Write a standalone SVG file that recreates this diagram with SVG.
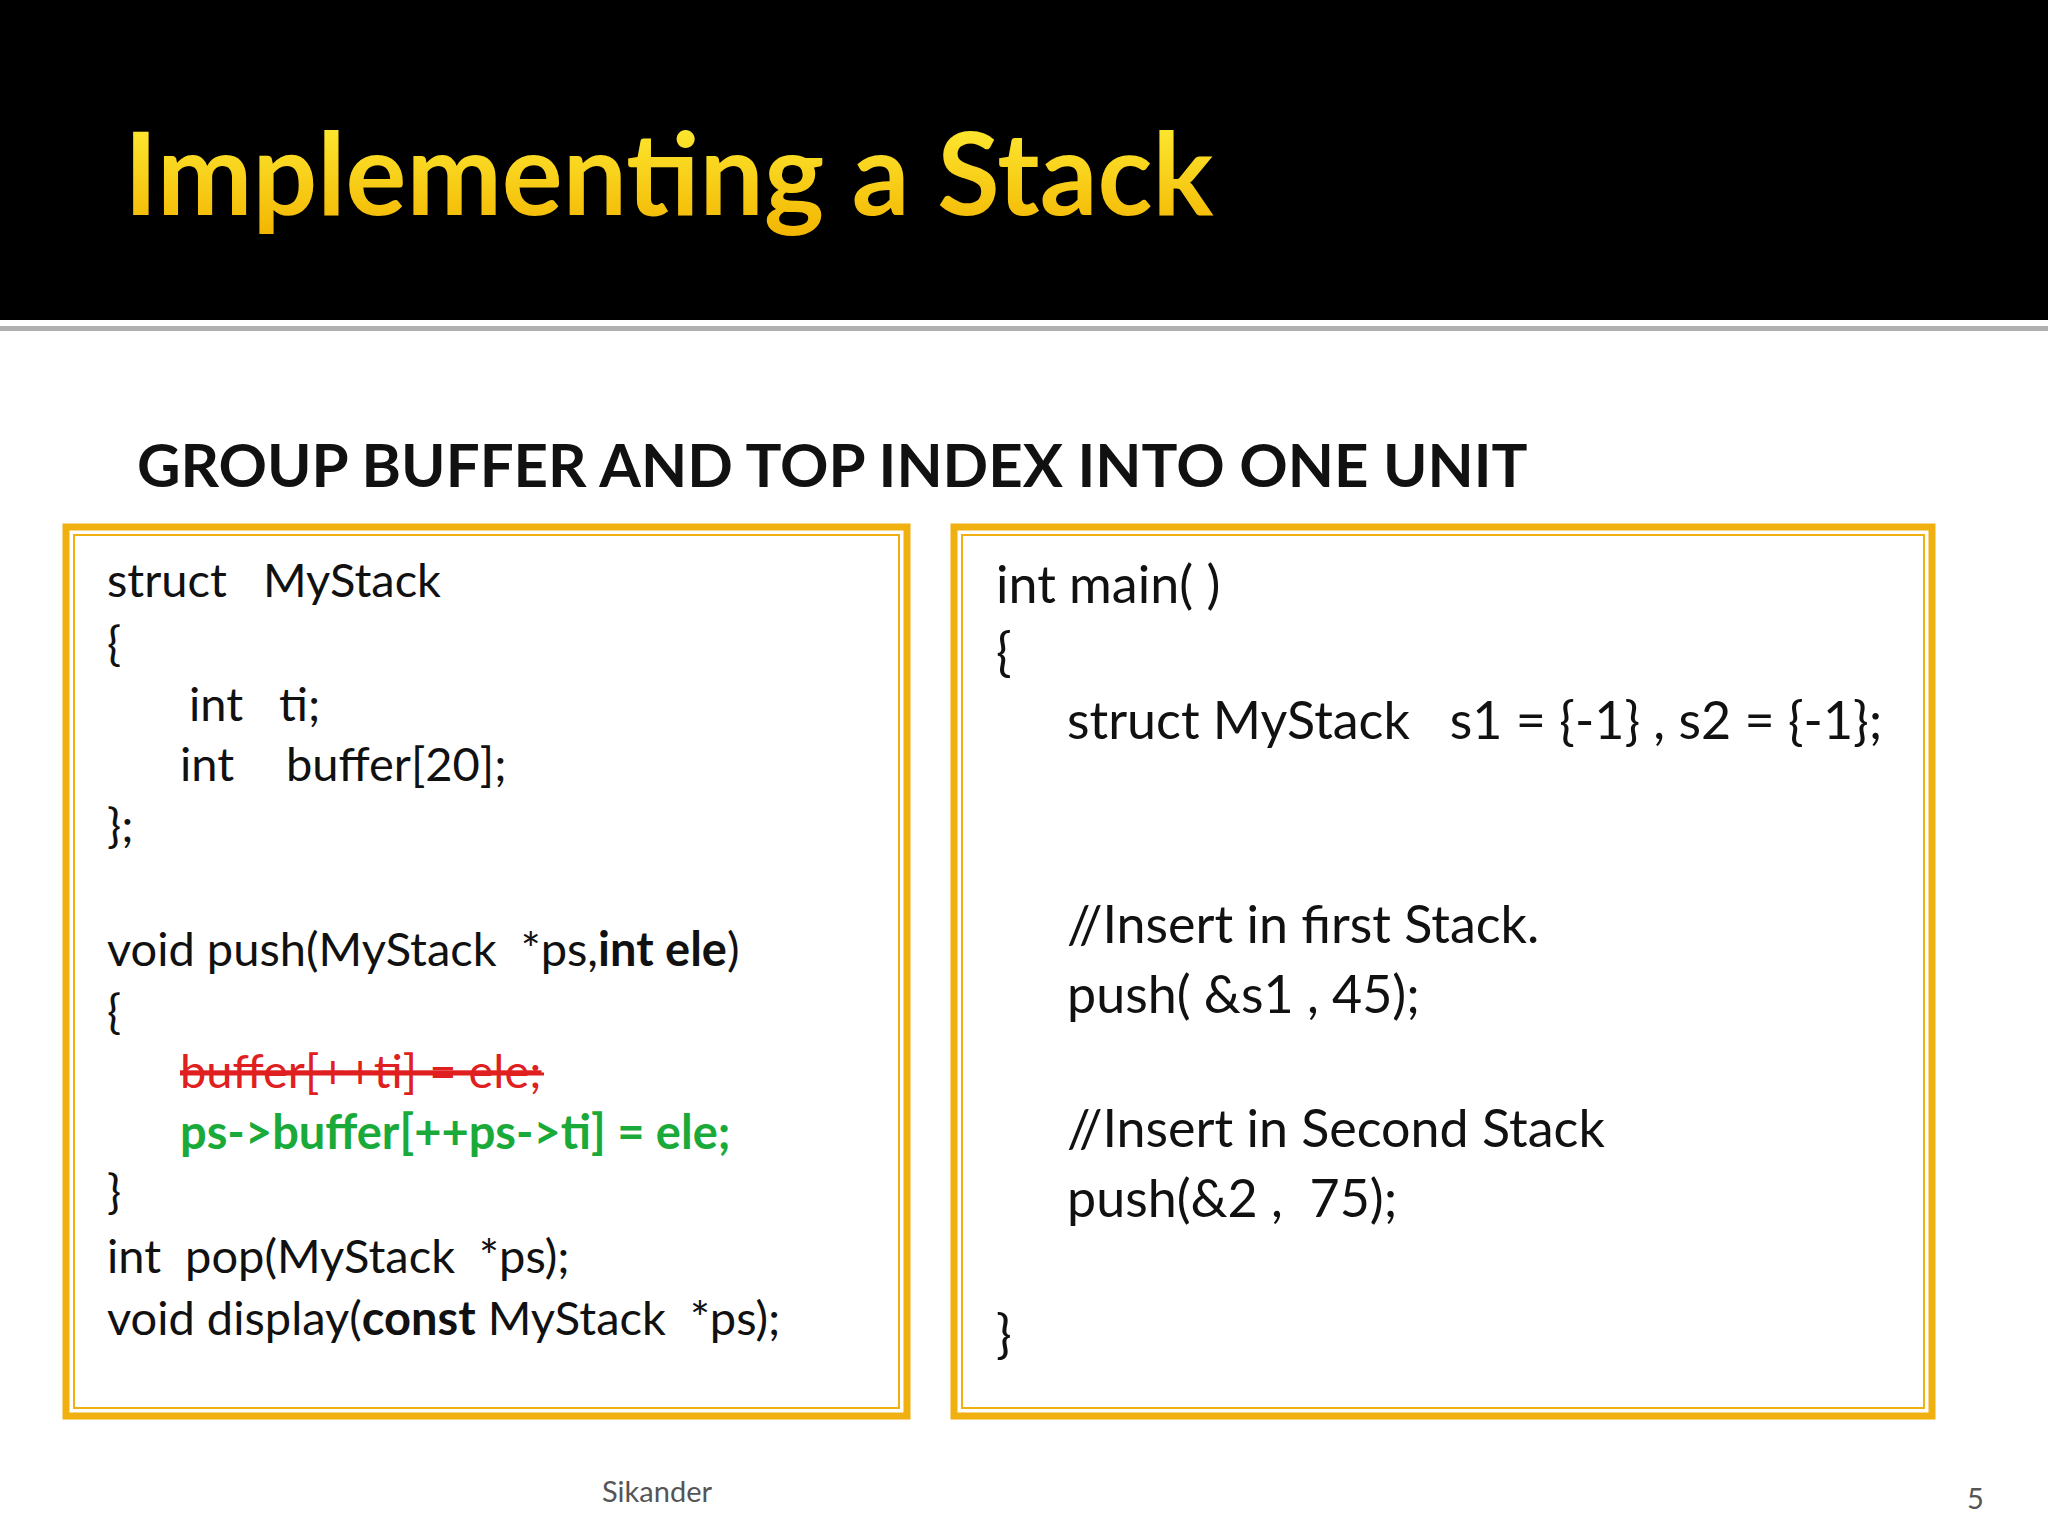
<svg xmlns="http://www.w3.org/2000/svg" width="2048" height="1536" viewBox="0 0 2048 1536">
<defs>
<linearGradient id="ty" x1="0" y1="0" x2="0" y2="1"><stop offset="0" stop-color="#fff23a"/><stop offset="1" stop-color="#f2b400"/></linearGradient>
</defs>
<style>
.c{font-family:Lato,"Open Sans",sans-serif;font-size:47px;fill:#111}
.r{font-family:Lato,"Open Sans",sans-serif;font-size:52px;fill:#111}
.box{fill:#fff;stroke:#f0b010;stroke-width:7}
.in{fill:none;stroke:#f0b010;stroke-width:2}
</style>
<rect width="2048" height="1536" fill="#fff"/>
<rect width="2048" height="320" fill="#000"/>
<rect y="326" width="2048" height="5" fill="#b0b0b0"/>
<text x="124" y="215" font-family="Lato,'Open Sans',sans-serif" font-weight="bold" font-size="114" fill="url(#ty)">Implementing a Stack</text>
<text x="137" y="487" font-family="Lato,'Open Sans',sans-serif" font-weight="bold" font-size="60" fill="#111">GROUP BUFFER AND TOP INDEX INTO ONE UNIT</text>
<g id="left">
<rect class="box" x="66" y="527" width="841" height="889"/>
<rect class="in" x="74" y="535" width="825" height="873"/>
<text class="c" x="107" y="597" xml:space="preserve">struct   MyStack</text>
<text class="c" x="107" y="660">{</text>
<text class="c" x="189" y="721" xml:space="preserve">int   ti;</text>
<text class="c" x="180" y="781">int</text>
<text class="c" x="286" y="781">buffer[20];</text>
<text class="c" x="107" y="842">};</text>
<text class="c" x="107" y="966" xml:space="preserve">void push(MyStack  *ps,<tspan font-weight="bold">int ele</tspan>)</text>
<text class="c" x="107" y="1028">{</text>
<text class="c" x="180" y="1088" fill="#e02020" style="fill:#e02020" text-decoration="line-through">buffer[++ti] = ele;</text>
<line x1="180" y1="1074" x2="544" y2="1074" stroke="#e02020" stroke-width="3"/>
<text class="c" x="180" y="1149" font-weight="bold" style="fill:#1aaa3a">ps-&gt;buffer[++ps-&gt;ti] = ele;</text>
<text class="c" x="107" y="1208">}</text>
<text class="c" x="107" y="1273" xml:space="preserve">int  pop(MyStack  *ps);</text>
<text class="c" x="107" y="1335" xml:space="preserve">void display(<tspan font-weight="bold">const</tspan> MyStack  *ps);</text>
</g>
<g id="right">
<rect class="box" x="954" y="527" width="978" height="889"/>
<rect class="in" x="962" y="535" width="962" height="873"/>
<text class="r" x="996" y="603">int main( )</text>
<text class="r" x="996" y="670">{</text>
<text class="r" x="1067" y="739" xml:space="preserve">struct MyStack   s1 = {-1} , s2 = {-1};</text>
<text class="r" x="1067" y="943">//Insert in first Stack.</text>
<text class="r" x="1067" y="1013">push( &amp;s1 , 45);</text>
<text class="r" x="1067" y="1147">//Insert in Second Stack</text>
<text class="r" x="1067" y="1217" xml:space="preserve">push(&amp;2 ,  75);</text>
<text class="r" x="996" y="1352">}</text>
</g>
<text x="602" y="1502" font-family="Lato,'Open Sans',sans-serif" font-size="29" fill="#555">Sikander</text>
<text x="1967" y="1509" font-family="Lato,'Open Sans',sans-serif" font-size="29" fill="#555">5</text>
</svg>
